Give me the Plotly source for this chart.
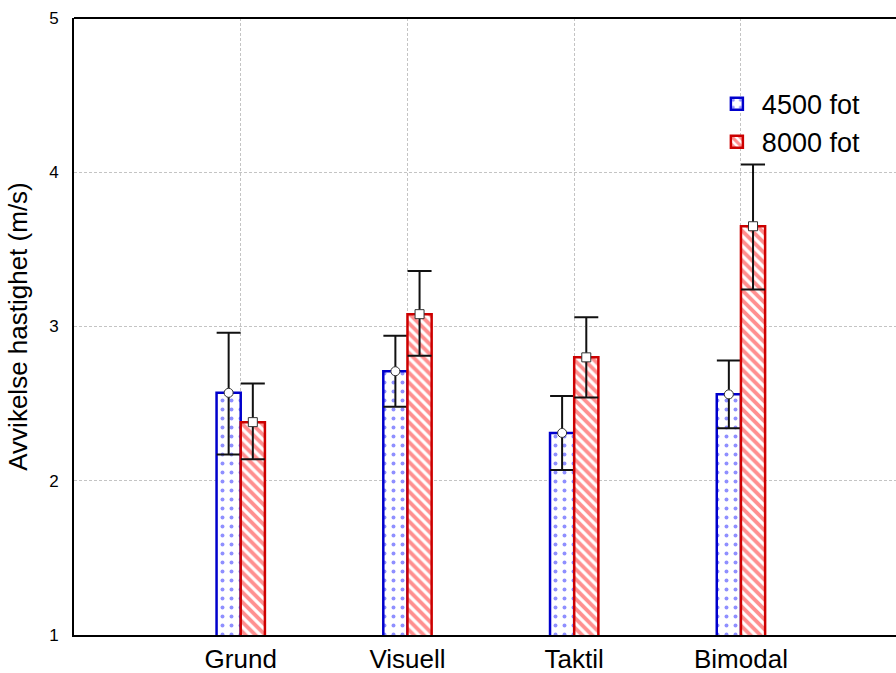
import plotly.graph_objects as go

categories = ["Grund", "Visuell", "Taktil", "Bimodal"]
series_names = ["4500 fot", "8000 fot"]
mean_4500 = [2.57, 2.71, 2.31, 2.56]
err_up_4500 = [0.39, 0.23, 0.24, 0.22]
err_dn_4500 = [0.40, 0.23, 0.24, 0.22]
mean_8000 = [2.38, 3.08, 2.80, 3.65]
err_up_8000 = [0.25, 0.28, 0.26, 0.40]
err_dn_8000 = [0.24, 0.27, 0.26, 0.41]
y_ticks = [1, 2, 3, 4, 5]

bar_w = 0.145
pos = list(range(len(categories)))
x_a = [p - bar_w / 2 for p in pos]
x_b = [p + bar_w / 2 for p in pos]

FONT = "Liberation Sans, Arial, sans-serif"
fig = go.Figure()

fig.add_trace(go.Bar(
    x=x_a, y=mean_4500, width=bar_w, name=series_names[0],
    marker=dict(color="white", line=dict(color="#0000cc", width=2.5),
                pattern=dict(shape=".", fgcolor="#1f1fff", bgcolor="white", size=9, solidity=0.15)),
    error_y=dict(type="data", array=err_up_4500, arrayminus=err_dn_4500,
                 color="#111111", thickness=2, width=12),
))
fig.add_trace(go.Bar(
    x=x_b, y=mean_8000, width=bar_w, name=series_names[1],
    marker=dict(color="white", line=dict(color="#cc0000", width=2.5),
                pattern=dict(shape="\\", fgcolor="#ff1f1f", bgcolor="white", size=7, solidity=0.55)),
    error_y=dict(type="data", array=err_up_8000, arrayminus=err_dn_8000,
                 color="#111111", thickness=2, width=12),
))
fig.add_trace(go.Scatter(
    x=x_a, y=mean_4500, mode="markers", showlegend=False,
    marker=dict(symbol="circle", size=9, color="white", line=dict(color="#333333", width=1)),
))
fig.add_trace(go.Scatter(
    x=x_b, y=mean_8000, mode="markers", showlegend=False,
    marker=dict(symbol="square", size=9, color="white", line=dict(color="#333333", width=1)),
))

fig.update_layout(
    width=896, height=673,
    margin=dict(l=74, r=0, t=18, b=38),
    paper_bgcolor="white", plot_bgcolor="white",
    font=dict(family=FONT, color="black"),
    barmode="overlay",
    showlegend=True,
    legend=dict(x=0.776, y=0.9, xanchor="left", yanchor="top",
                font=dict(size=27, family=FONT), bgcolor="rgba(0,0,0,0)",
                tracegroupgap=0, itemwidth=40),
    xaxis=dict(
        range=[-1, 3.93], tickmode="array", tickvals=pos, ticktext=categories,
        tickfont=dict(size=26), showgrid=True, gridcolor="#c4c4c4", griddash="3px,2px",
        gridwidth=1, showline=True, linecolor="black", linewidth=2, ticks="",
        zeroline=False, automargin=False,
    ),
    yaxis=dict(
        range=[1, 5], tickmode="array", tickvals=y_ticks,
        tickfont=dict(size=17), showgrid=True, gridcolor="#c4c4c4", griddash="3px,2px",
        gridwidth=1, showline=True, linecolor="black", linewidth=2, ticks="",
        ticklabelstandoff=10, zeroline=False, automargin=False,
        title=dict(text="Avvikelse hastighet (m/s)", font=dict(size=26), standoff=14),
    ),
    shapes=[dict(type="line", xref="paper", yref="paper", x0=0, x1=1, y0=1, y1=1,
                 line=dict(color="black", width=2))],
)

fig.write_html("out.html", config={"displayModeBar": False},
               post_script="document.body.style.margin='0';document.body.style.overflow='hidden';")
